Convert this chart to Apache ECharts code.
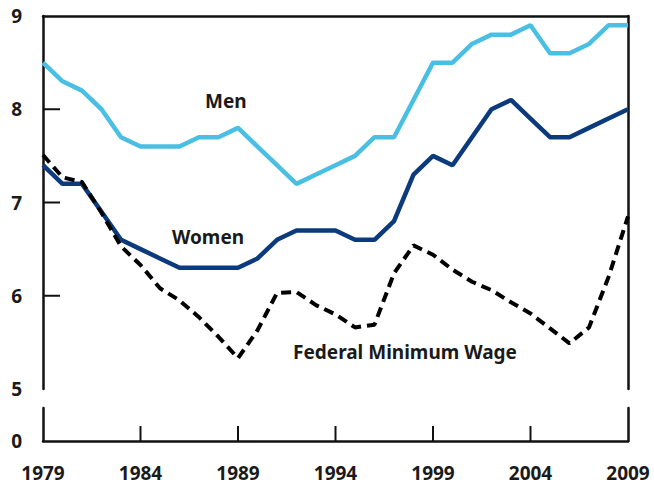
<!DOCTYPE html>
<html style="height: 100%">
<head>
    <meta charset="utf-8">
    <title>Wages</title>
    <script src="https://cdn.jsdelivr.net/npm/echarts@6/dist/echarts.min.js"></script>
</head>
<body style="height: 100%; margin: 0; background: #fff">
<div id="main" style="width: 654px; height: 490px"></div>
<script type="text/javascript">
    // years 1979..2009
    var years = [];
    for (var y = 1979; y <= 2009; y++) years.push(String(y));

    var men = [8.5, 8.3, 8.2, 8.0, 7.7, 7.6, 7.6, 7.6, 7.7, 7.7, 7.8, 7.6, 7.4, 7.2, 7.3, 7.4,
        7.5, 7.7, 7.7, 8.1, 8.5, 8.5, 8.7, 8.8, 8.8, 8.9, 8.6, 8.6, 8.7, 8.9, 8.9];
    var women = [7.4, 7.2, 7.2, 6.9, 6.6, 6.5, 6.4, 6.3, 6.3, 6.3, 6.3, 6.4, 6.6, 6.7, 6.7, 6.7,
        6.6, 6.6, 6.8, 7.3, 7.5, 7.4, 7.7, 8.0, 8.1, 7.9, 7.7, 7.7, 7.8, 7.9, 8.0];
    var minWage = [7.51, 7.27, 7.22, 6.89, 6.53, 6.33, 6.08, 5.95, 5.77, 5.56, 5.33, 5.63, 6.03, 6.04, 5.9, 5.8,
        5.66, 5.69, 6.24, 6.54, 6.44, 6.28, 6.15, 6.06, 5.93, 5.81, 5.65, 5.49, 5.66, 6.2, 6.85];

    // tick marks drawn inside the frame
    var yTickValues = [6, 7, 8];
    var xTickYears = ['1984', '1989', '1994', '1999', '2004'];

    var font = 'Noto Sans';

    function axisLine() {
        return { show: true, onZero: false, lineStyle: { color: '#111', width: 2.5 } };
    }
    function labelStyle(extra) {
        var s = { color: '#1a1a1a', fontFamily: font, fontWeight: 'bold', fontSize: 19 };
        for (var k in extra) s[k] = extra[k];
        return s;
    }

    // ticks through a custom series, placed with the axes' own coord()
    function tickSeries(xIdx, yIdx, data, dx, dy) {
        return {
            type: 'custom', xAxisIndex: xIdx, yAxisIndex: yIdx, data: data, silent: true, z: 10,
            renderItem: function (params, api) {
                var p = api.coord([api.value(0), api.value(1)]);
                return {
                    type: 'line',
                    shape: { x1: p[0], y1: p[1], x2: p[0] + dx, y2: p[1] + dy },
                    style: { stroke: '#111', lineWidth: 2, lineDash: null }
                };
            }
        };
    }

    var myChart = echarts.init(document.getElementById('main'), null, { renderer: 'svg' });
    var option = {
        animation: false,
        backgroundColor: '#fff',
        grid: [
            { left: 43, right: 26, top: 16, bottom: 101 },
            { left: 43, right: 26, top: 408, bottom: 49 }
        ],
        xAxis: [
            {
                gridIndex: 0, type: 'category', data: years, boundaryGap: false, position: 'top',
                axisLine: axisLine(), axisTick: { show: false }, axisLabel: { show: false },
                splitLine: { show: false }
            },
            {
                gridIndex: 1, type: 'category', data: years, boundaryGap: false,
                axisLine: axisLine(), axisTick: { show: false },
                axisLabel: labelStyle({ interval: 4, margin: 22 }),
                splitLine: { show: false }
            }
        ],
        yAxis: [
            {
                gridIndex: 0, type: 'value', min: 5, max: 9, interval: 1,
                axisLine: axisLine(), axisTick: { show: false },
                axisLabel: labelStyle({ margin: 21 }),
                splitLine: { show: false }
            },
            {
                gridIndex: 0, type: 'value', min: 5, max: 9, position: 'right',
                axisLine: axisLine(), axisTick: { show: false }, axisLabel: { show: false },
                splitLine: { show: false }
            },
            {
                gridIndex: 1, type: 'value', min: 0, max: 1, interval: 1,
                axisLine: axisLine(), axisTick: { show: false },
                axisLabel: labelStyle({ margin: 21, showMaxLabel: false }),
                splitLine: { show: false }
            },
            {
                gridIndex: 1, type: 'value', min: 0, max: 1, position: 'right',
                axisLine: axisLine(), axisTick: { show: false }, axisLabel: { show: false },
                splitLine: { show: false }
            }
        ],
        series: [
            tickSeries(0, 0, yTickValues.map(function (v) { return [0, v]; }), 17, 0),
            tickSeries(1, 2, xTickYears.map(function (yr) { return [years.indexOf(yr), 0]; }), 0, -15),
            {
                name: 'Men', type: 'line', xAxisIndex: 0, yAxisIndex: 0, data: men,
                symbol: 'none', lineStyle: { color: '#49bfe4', width: 4.5 }
            },
            {
                name: 'Women', type: 'line', xAxisIndex: 0, yAxisIndex: 0, data: women,
                symbol: 'none', lineStyle: { color: '#0b3b7c', width: 4.5 }
            },
            {
                name: 'Federal Minimum Wage', type: 'line', xAxisIndex: 0, yAxisIndex: 0, data: minWage,
                symbol: 'none', lineStyle: { color: '#000', width: 4, type: [10, 6] }
            }
        ],
        graphic: [
            { type: 'text', left: 205, top: 91, style: { text: 'Men', font: 'bold 19px "Noto Sans"', fill: '#1a1a1a' } },
            { type: 'text', left: 172, top: 227, style: { text: 'Women', font: 'bold 19px "Noto Sans"', fill: '#1a1a1a' } },
            { type: 'text', left: 293, top: 342, style: { text: 'Federal Minimum Wage', font: 'bold 19px "Noto Sans"', fill: '#1a1a1a' } }
        ]
    };
    myChart.setOption(option);
</script>
</body>
</html>
